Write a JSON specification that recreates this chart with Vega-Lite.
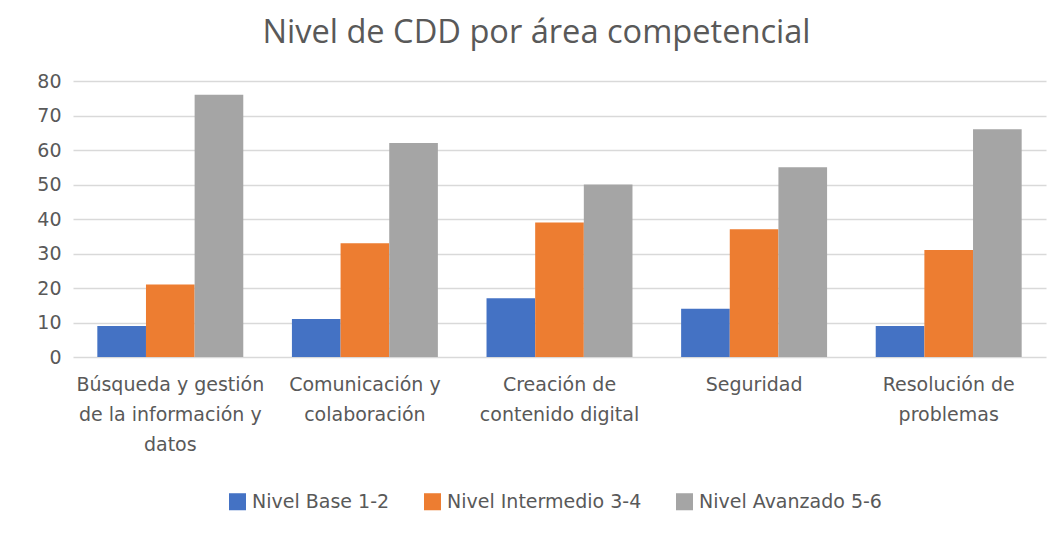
{
  "$schema": "https://vega.github.io/schema/vega-lite/v6.json",
  "width": 973,
  "height": 276,
  "autosize": {"type": "none"},
  "padding": {"left": 73, "top": 81, "right": 15, "bottom": 181},
  "background": "white",
  "title": {
    "text": "Nivel de CDD por área competencial",
    "font": "Open Sans",
    "fontSize": 32.6,
    "fontWeight": "normal",
    "color": "#595959",
    "anchor": "middle",
    "dx": -23,
    "offset": 22
  },
  "data": {
    "values": [
      {"area": "Búsqueda y gestión|de la información y|datos", "nivel": "Nivel Base 1-2", "valor": 9},
      {"area": "Búsqueda y gestión|de la información y|datos", "nivel": "Nivel Intermedio 3-4", "valor": 21},
      {"area": "Búsqueda y gestión|de la información y|datos", "nivel": "Nivel Avanzado 5-6", "valor": 76},
      {"area": "Comunicación y|colaboración", "nivel": "Nivel Base 1-2", "valor": 11},
      {"area": "Comunicación y|colaboración", "nivel": "Nivel Intermedio 3-4", "valor": 33},
      {"area": "Comunicación y|colaboración", "nivel": "Nivel Avanzado 5-6", "valor": 62},
      {"area": "Creación de|contenido digital", "nivel": "Nivel Base 1-2", "valor": 17},
      {"area": "Creación de|contenido digital", "nivel": "Nivel Intermedio 3-4", "valor": 39},
      {"area": "Creación de|contenido digital", "nivel": "Nivel Avanzado 5-6", "valor": 50},
      {"area": "Seguridad", "nivel": "Nivel Base 1-2", "valor": 14},
      {"area": "Seguridad", "nivel": "Nivel Intermedio 3-4", "valor": 37},
      {"area": "Seguridad", "nivel": "Nivel Avanzado 5-6", "valor": 55},
      {"area": "Resolución de|problemas", "nivel": "Nivel Base 1-2", "valor": 9},
      {"area": "Resolución de|problemas", "nivel": "Nivel Intermedio 3-4", "valor": 31},
      {"area": "Resolución de|problemas", "nivel": "Nivel Avanzado 5-6", "valor": 66}
    ]
  },
  "mark": {"type": "bar"},
  "encoding": {
    "x": {
      "field": "area",
      "type": "nominal",
      "sort": null,
      "scale": {"paddingInner": 0.25, "paddingOuter": 0.125},
      "axis": {
        "title": null,
        "labelAngle": 0,
        "labelExpr": "split(datum.label, '|')",
        "domain": false,
        "ticks": false,
        "labelFont": "DejaVu Sans",
        "labelFontSize": 19,
        "labelColor": "#595959",
        "labelLineHeight": 30,
        "labelPadding": 18,
        "labelBaseline": "top",
        "labelLimit": 300
      }
    },
    "xOffset": {
      "field": "nivel",
      "type": "nominal",
      "sort": ["Nivel Base 1-2", "Nivel Intermedio 3-4", "Nivel Avanzado 5-6"],
      "scale": {"paddingInner": 0, "paddingOuter": 0}
    },
    "y": {
      "field": "valor",
      "type": "quantitative",
      "scale": {"domain": [0, 80]},
      "axis": {
        "title": null,
        "values": [0, 10, 20, 30, 40, 50, 60, 70, 80],
        "domain": false,
        "ticks": false,
        "labelFont": "DejaVu Sans",
        "labelFontSize": 19,
        "labelColor": "#595959",
        "labelPadding": 12,
        "gridColor": "#D9D9D9",
        "gridWidth": 1.5
      }
    },
    "color": {
      "field": "nivel",
      "type": "nominal",
      "sort": ["Nivel Base 1-2", "Nivel Intermedio 3-4", "Nivel Avanzado 5-6"],
      "scale": {
        "domain": ["Nivel Base 1-2", "Nivel Intermedio 3-4", "Nivel Avanzado 5-6"],
        "range": ["#4472C4", "#ED7D31", "#A5A5A5"]
      },
      "legend": {
        "title": null,
        "orient": "none",
        "direction": "horizontal",
        "legendX": 155,
        "legendY": 411,
        "symbolType": "square",
        "symbolSize": 290,
        "symbolStrokeWidth": 0,
        "symbolOpacity": 1,
        "labelFont": "DejaVu Sans",
        "labelFontSize": 19,
        "labelColor": "#595959",
        "labelOffset": 5,
        "labelLimit": 400,
        "columnPadding": 33
      }
    }
  },
  "config": {
    "view": {"stroke": null}
  }
}
